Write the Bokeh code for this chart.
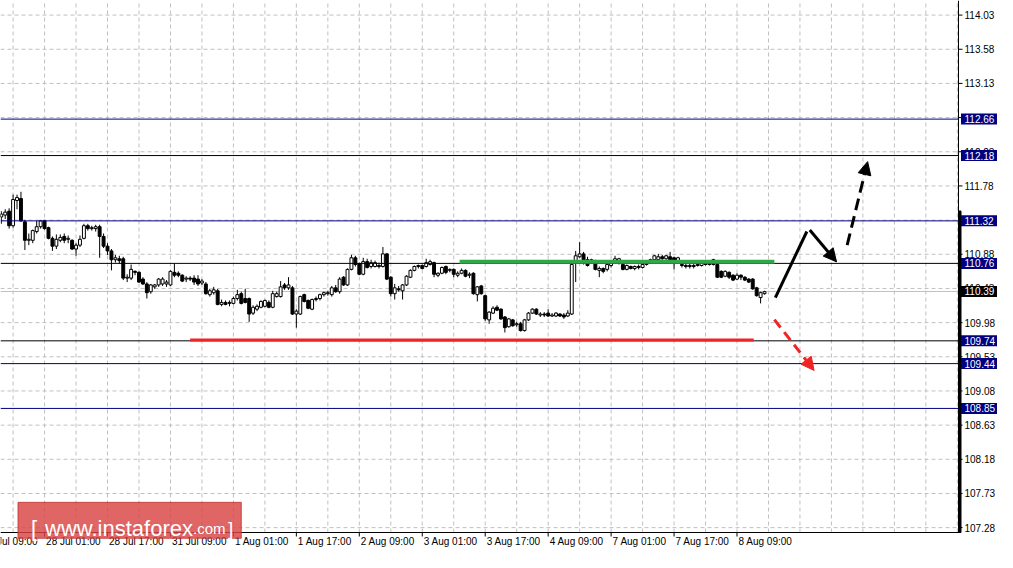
from bokeh.plotting import figure
from bokeh.models import Range1d, Arrow, NormalHead
from bokeh.core.properties import value
from bokeh.embed import file_html
from bokeh.resources import INLINE

# ---------------- data ----------------
opens = [111.371, 111.396, 111.448, 111.256, 111.588, 111.614, 111.307, 111.064, 111.064, 111.179,
 111.243, 111.320, 111.230, 111.090, 110.987, 111.064, 111.115, 111.077, 111.064, 110.949,
 111.000, 111.090, 111.256, 111.218, 111.218, 111.243, 111.115, 110.987, 110.924, 110.808,
 110.821, 110.821, 110.566, 110.566, 110.655, 110.642, 110.553, 110.489, 110.387, 110.451,
 110.476, 110.489, 110.489, 110.476, 110.642, 110.630, 110.604, 110.553, 110.566, 110.566,
 110.553, 110.502, 110.489, 110.348, 110.374, 110.399, 110.220, 110.246, 110.233, 110.233,
 110.297, 110.361, 110.297, 110.297, 110.105, 110.157, 110.182, 110.195, 110.246, 110.182,
 110.323, 110.323, 110.476, 110.438, 110.438, 110.093, 110.093, 110.348, 110.272, 110.157,
 110.284, 110.297, 110.348, 110.361, 110.348, 110.438, 110.387, 110.578, 110.476, 110.681,
 110.834, 110.757, 110.617, 110.783, 110.719, 110.719, 110.732, 110.719, 110.885, 110.578,
 110.361, 110.425, 110.399, 110.476, 110.578, 110.668, 110.719, 110.732, 110.719, 110.745,
 110.770, 110.604, 110.630, 110.719, 110.668, 110.681, 110.604, 110.630, 110.668, 110.604,
 110.630, 110.348, 110.463, 110.335, 110.016, 110.105, 110.182, 110.157, 110.054, 109.926,
 110.016, 109.952, 109.965, 109.875, 110.016, 110.105, 110.157, 110.080, 110.093, 110.105,
 110.067, 110.067, 110.093, 110.080, 110.067, 110.093, 110.796, 110.847, 110.885, 110.808,
 110.783, 110.783, 110.668, 110.693, 110.681, 110.732, 110.770, 110.783, 110.745, 110.681,
 110.719, 110.693, 110.719, 110.706, 110.745, 110.770, 110.808, 110.808, 110.847, 110.821,
 110.847, 110.834, 110.783, 110.745, 110.732, 110.719, 110.732, 110.732, 110.732, 110.770,
 110.745, 110.808, 110.745, 110.655, 110.591, 110.642, 110.604, 110.553, 110.604, 110.578,
 110.553, 110.553, 110.438, 110.310, 110.361]

highs = [111.448, 111.473, 111.486, 111.665, 111.665, 111.703, 111.333, 111.154, 111.205, 111.320,
 111.333, 111.333, 111.243, 111.115, 111.141, 111.141, 111.154, 111.128, 111.077, 111.026,
 111.128, 111.281, 111.281, 111.256, 111.269, 111.269, 111.154, 111.026, 110.949, 110.872,
 110.860, 110.847, 110.617, 110.745, 110.668, 110.655, 110.578, 110.514, 110.489, 110.489,
 110.566, 110.578, 110.540, 110.668, 110.757, 110.655, 110.617, 110.591, 110.591, 110.604,
 110.604, 110.553, 110.514, 110.425, 110.451, 110.425, 110.284, 110.272, 110.272, 110.323,
 110.412, 110.387, 110.425, 110.310, 110.208, 110.220, 110.272, 110.284, 110.272, 110.399,
 110.387, 110.527, 110.502, 110.578, 110.463, 110.157, 110.335, 110.361, 110.284, 110.297,
 110.323, 110.361, 110.387, 110.399, 110.463, 110.476, 110.578, 110.591, 110.693, 110.872,
 110.860, 110.770, 110.834, 110.821, 110.808, 110.796, 110.770, 110.975, 110.898, 110.591,
 110.489, 110.463, 110.489, 110.604, 110.681, 110.732, 110.745, 110.745, 110.821, 110.808,
 110.783, 110.642, 110.719, 110.732, 110.693, 110.693, 110.655, 110.693, 110.681, 110.642,
 110.642, 110.463, 110.476, 110.348, 110.131, 110.195, 110.208, 110.169, 110.067, 110.042,
 110.029, 109.990, 109.990, 110.029, 110.118, 110.169, 110.169, 110.118, 110.118, 110.157,
 110.105, 110.118, 110.105, 110.105, 110.144, 110.770, 110.924, 111.039, 110.911, 110.847,
 110.821, 110.808, 110.719, 110.706, 110.757, 110.783, 110.860, 110.834, 110.770, 110.745,
 110.732, 110.732, 110.745, 110.770, 110.796, 110.821, 110.872, 110.885, 110.872, 110.872,
 110.911, 110.847, 110.847, 110.770, 110.757, 110.757, 110.757, 110.770, 110.783, 110.796,
 110.783, 110.821, 110.757, 110.668, 110.668, 110.655, 110.617, 110.630, 110.617, 110.591,
 110.566, 110.566, 110.451, 110.387, 110.399]

lows = [111.281, 111.345, 111.218, 111.230, 111.473, 111.307, 110.936, 111.000, 111.026, 111.154,
 111.218, 111.205, 111.077, 110.924, 110.949, 111.039, 111.026, 111.026, 110.936, 110.860,
 110.975, 111.077, 111.192, 111.192, 111.179, 110.834, 110.962, 110.872, 110.668, 110.770,
 110.757, 110.540, 110.514, 110.540, 110.604, 110.502, 110.476, 110.297, 110.361, 110.425,
 110.451, 110.463, 110.451, 110.463, 110.578, 110.578, 110.514, 110.514, 110.527, 110.476,
 110.463, 110.476, 110.348, 110.323, 110.348, 110.208, 110.195, 110.208, 110.195, 110.220,
 110.272, 110.220, 110.233, 109.990, 110.080, 110.131, 110.169, 110.182, 110.169, 110.169,
 110.310, 110.310, 110.412, 110.412, 110.080, 109.914, 110.080, 110.246, 110.157, 110.144,
 110.259, 110.272, 110.323, 110.335, 110.323, 110.374, 110.361, 110.463, 110.463, 110.668,
 110.719, 110.604, 110.604, 110.693, 110.693, 110.706, 110.693, 110.706, 110.540, 110.323,
 110.284, 110.387, 110.284, 110.463, 110.566, 110.655, 110.693, 110.681, 110.706, 110.732,
 110.578, 110.578, 110.617, 110.617, 110.642, 110.578, 110.578, 110.617, 110.578, 110.566,
 110.348, 110.259, 110.348, 110.003, 109.965, 110.093, 110.131, 110.016, 109.850, 109.914,
 109.926, 109.926, 109.863, 109.863, 110.003, 110.093, 110.080, 110.054, 110.054, 110.054,
 110.054, 110.054, 110.054, 110.029, 110.054, 110.080, 110.514, 110.834, 110.745, 110.719,
 110.757, 110.668, 110.578, 110.630, 110.655, 110.706, 110.757, 110.745, 110.668, 110.668,
 110.681, 110.668, 110.681, 110.693, 110.732, 110.757, 110.796, 110.796, 110.808, 110.808,
 110.796, 110.681, 110.770, 110.706, 110.693, 110.693, 110.693, 110.719, 110.719, 110.732,
 110.732, 110.732, 110.566, 110.566, 110.578, 110.553, 110.527, 110.540, 110.540, 110.527,
 110.502, 110.412, 110.323, 110.233, 110.348]

closes = [111.409, 111.435, 111.256, 111.601, 111.627, 111.320, 111.064, 111.077, 111.192, 111.243,
 111.320, 111.218, 111.090, 110.987, 111.077, 111.102, 111.064, 111.090, 110.949, 111.000,
 111.077, 111.256, 111.218, 111.230, 111.243, 111.115, 110.987, 110.924, 110.808, 110.834,
 110.796, 110.566, 110.578, 110.681, 110.642, 110.514, 110.489, 110.374, 110.476, 110.476,
 110.553, 110.553, 110.514, 110.655, 110.604, 110.604, 110.527, 110.566, 110.553, 110.514,
 110.489, 110.527, 110.361, 110.399, 110.412, 110.220, 110.246, 110.220, 110.246, 110.297,
 110.348, 110.233, 110.246, 110.093, 110.182, 110.195, 110.259, 110.272, 110.182, 110.361,
 110.361, 110.451, 110.438, 110.476, 110.093, 110.131, 110.323, 110.259, 110.169, 110.284,
 110.297, 110.348, 110.374, 110.374, 110.438, 110.387, 110.553, 110.476, 110.681, 110.834,
 110.745, 110.617, 110.783, 110.706, 110.770, 110.770, 110.719, 110.885, 110.553, 110.361,
 110.438, 110.412, 110.476, 110.591, 110.668, 110.719, 110.732, 110.693, 110.770, 110.783,
 110.617, 110.630, 110.706, 110.642, 110.681, 110.617, 110.630, 110.668, 110.591, 110.617,
 110.361, 110.451, 110.361, 110.029, 110.118, 110.169, 110.144, 110.029, 109.914, 110.029,
 109.939, 109.965, 109.875, 110.016, 110.105, 110.157, 110.093, 110.093, 110.080, 110.067,
 110.080, 110.105, 110.067, 110.054, 110.105, 110.745, 110.860, 110.885, 110.796, 110.732,
 110.808, 110.681, 110.693, 110.655, 110.745, 110.770, 110.821, 110.821, 110.681, 110.732,
 110.693, 110.719, 110.706, 110.745, 110.770, 110.808, 110.860, 110.847, 110.821, 110.860,
 110.808, 110.796, 110.834, 110.732, 110.719, 110.732, 110.719, 110.745, 110.770, 110.745,
 110.757, 110.745, 110.578, 110.578, 110.655, 110.578, 110.540, 110.604, 110.578, 110.540,
 110.514, 110.425, 110.335, 110.374, 110.387]

# time axis (bar index of each labelled hour)
time_tick_bars = [-5, 11, 27, 43, 59, 75, 91, 107, 123, 139, 155, 171, 187]
time_tick_labels = ["27 Jul 09:00", "28 Jul 01:00", "28 Jul 17:00", "31 Jul 09:00",
                    "1 Aug 01:00", "1 Aug 17:00", "2 Aug 09:00", "3 Aug 01:00",
                    "3 Aug 17:00", "4 Aug 09:00", "7 Aug 01:00", "7 Aug 17:00",
                    "8 Aug 09:00"]
price_ticks = [114.03, 113.58, 113.13, 112.68, 112.23, 111.78, 111.33, 110.88,
               110.43, 109.98, 109.53, 109.08, 108.63, 108.18, 107.73, 107.28]

navy_levels = [112.66, 111.32, 109.44, 108.85]
black_levels = [112.18, 110.76, 109.74]
level_labels = [112.66, 112.18, 111.32, 110.76, 109.74, 109.44, 108.85]
current_price = 110.39

# drawn analysis objects: (bar start, bar end, price)
resistance_line = (116.5, 196.5, 110.78)
support_line = (48.0, 191.25, 109.75)
# arrows: (bar0, price0, bar1, price1)
up_stroke = (196.75, 110.31, 204.75, 111.18)
pullback_arrow = (205.5, 111.20, 212.3, 110.78)
breakout_arrow = (215.0, 111.00, 220.2, 112.10)
down_arrow = (196.5, 110.02, 206.6, 109.35)

# ---------------- layout ----------------
W, H = 997, 552          # canvas
FW, FH = 958, 532        # chart area (rest = price / time scales)
X0, X1 = -0.2, 243.3     # bars shown in the chart area
Y0, Y1 = 107.216, 114.222
PPB = FW / (X1 - X0)     # px per bar
YS = (Y1 - Y0) / FH      # price per px
XR = X0 + W / PPB
YB = Y0 - (H - FH) * YS
FONT = value("Liberation Sans")
AX_SIZE = "10px"

p = figure(width=W, height=H, output_backend="svg", toolbar_location=None,
           x_range=Range1d(X0, XR), y_range=Range1d(YB, Y1),
           x_axis_location=None, y_axis_location=None,
           min_border=0, min_border_left=0, min_border_right=0,
           min_border_top=0, min_border_bottom=0)
p.outline_line_color = None
p.background_fill_color = "white"
p.grid.visible = False

# grid (dashed)
grid_bars = list(range(3, 244, 8))
p.segment(x0=grid_bars, x1=grid_bars, y0=[Y0] * len(grid_bars), y1=[Y1] * len(grid_bars),
          line_color="#c0c0c0", line_dash="4 3", line_width=1)
p.segment(x0=[X0] * len(price_ticks), x1=[X1] * len(price_ticks), y0=price_ticks,
          y1=price_ticks, line_color="#c0c0c0", line_dash="4 3", line_width=1)

# bid line
p.segment(x0=[X0], x1=[X1], y0=[current_price], y1=[current_price],
          line_color="#c0c0c0", line_width=1)

# candles
idx = list(range(len(closes)))
p.segment(x0=idx, y0=lows, x1=idx, y1=highs, line_color="black", line_width=1)
up = [i for i in idx if closes[i] >= opens[i]]
dn = [i for i in idx if closes[i] < opens[i]]
p.vbar(x=up, top=[closes[i] for i in up], bottom=[opens[i] for i in up], width=0.74,
       fill_color="white", line_color="black", line_width=1)
p.vbar(x=dn, top=[opens[i] for i in dn], bottom=[closes[i] for i in dn], width=0.74,
       fill_color="black", line_color="black", line_width=1)

# level lines
p.segment(x0=[X0] * len(navy_levels), x1=[X1] * len(navy_levels), y0=navy_levels,
          y1=navy_levels, line_color="#000080", line_width=1)
p.segment(x0=[X0] * len(black_levels), x1=[X1] * len(black_levels), y0=black_levels,
          y1=black_levels, line_color="black", line_width=1)

# analysis lines
p.segment(x0=[resistance_line[0]], x1=[resistance_line[1]], y0=[resistance_line[2]],
          y1=[resistance_line[2]], line_color="#2ea84a", line_width=4)
p.segment(x0=[support_line[0]], x1=[support_line[1]], y0=[support_line[2]],
          y1=[support_line[2]], line_color="#f02424", line_width=3)
p.line(x=[up_stroke[0], up_stroke[2]], y=[up_stroke[1], up_stroke[3]],
       line_color="black", line_width=3)
p.add_layout(Arrow(end=NormalHead(size=13, fill_color="black", line_color="black"),
                   x_start=pullback_arrow[0], y_start=pullback_arrow[1],
                   x_end=pullback_arrow[2], y_end=pullback_arrow[3],
                   line_color="black", line_width=3))
p.add_layout(Arrow(end=NormalHead(size=13, fill_color="black", line_color="black"),
                   x_start=breakout_arrow[0], y_start=breakout_arrow[1],
                   x_end=breakout_arrow[2], y_end=breakout_arrow[3],
                   line_color="black", line_width=3, line_dash="12 6"))
p.add_layout(Arrow(end=NormalHead(size=13, fill_color="#f02424", line_color="#f02424"),
                   x_start=down_arrow[0], y_start=down_arrow[1],
                   x_end=down_arrow[2], y_end=down_arrow[3],
                   line_color="#f02424", line_width=3, line_dash="10 6"))

# ---- time scale (bottom) ----
p.segment(x0=[X0], x1=[X1], y0=[Y0], y1=[Y0], line_color="black", line_width=1)
p.segment(x0=time_tick_bars, x1=time_tick_bars, y0=[Y0] * len(time_tick_bars),
          y1=[Y0 - 4 * YS] * len(time_tick_bars), line_color="black", line_width=1)
p.text(x=[b + 1.5 / PPB for b in time_tick_bars], y=[Y0 - 3 * YS] * len(time_tick_bars),
       text=time_tick_labels, text_font=FONT, text_font_size=AX_SIZE,
       text_color="black", text_align="left", text_baseline="top")

# ---- price scale (right) ----
p.segment(x0=[X1], x1=[X1], y0=[Y0], y1=[Y1], line_color="black", line_width=1)
p.quad(left=[X1], right=[X1 + 2.5 / PPB], bottom=[Y0], top=[111.45], color="black")
p.segment(x0=[X1] * len(price_ticks), x1=[X1 + 4 / PPB] * len(price_ticks),
          y0=price_ticks, y1=price_ticks, line_color="black", line_width=1)
p.text(x=[X1 + 6 / PPB] * len(price_ticks), y=price_ticks,
       text=[f"{v:.2f}" for v in price_ticks], text_font=FONT, text_font_size=AX_SIZE,
       text_color="black", text_align="left", text_baseline="middle")

# level price tags
p.quad(left=[X1 + 2.5 / PPB] * len(level_labels), right=[XR] * len(level_labels),
       bottom=[v - 5.5 * YS for v in level_labels], top=[v + 5.5 * YS for v in level_labels],
       fill_color="#000080", line_color=None)
p.quad(left=[X1 + 2.5 / PPB], right=[XR], bottom=[current_price - 5.5 * YS],
       top=[current_price + 5.5 * YS], fill_color="black", line_color=None)
tags = level_labels + [current_price]
p.text(x=[X1 + 6 / PPB] * len(tags), y=tags, text=[f"{v:.2f}" for v in tags],
       text_font=FONT, text_font_size=AX_SIZE, text_color="white",
       text_align="left", text_baseline="middle")

# ---- watermark (drawn on top of everything) ----
wm_left, wm_right = 4.25, 61.0
wm_top, wm_bottom = 107.613, 107.140
wm_base = 107.275
p.quad(left=[wm_left], right=[wm_right], bottom=[wm_bottom], top=[wm_top],
       fill_color="#d94444", fill_alpha=0.82, line_color="#c03030", line_alpha=0.8,
       line_width=1)
for txt, off, size in (("[", 13, "22px"), ("www.instaforex", 27, "22px"),
                       (".com", 175, "15px"), ("]", 210, "19px")):
    p.text(x=[wm_left], y=[wm_base], x_offset=off, text=[txt], text_font=FONT,
           text_font_size=size, text_color="white", text_align="left",
           text_baseline="alphabetic")

open("out.html", "w").write(file_html(p, INLINE))
